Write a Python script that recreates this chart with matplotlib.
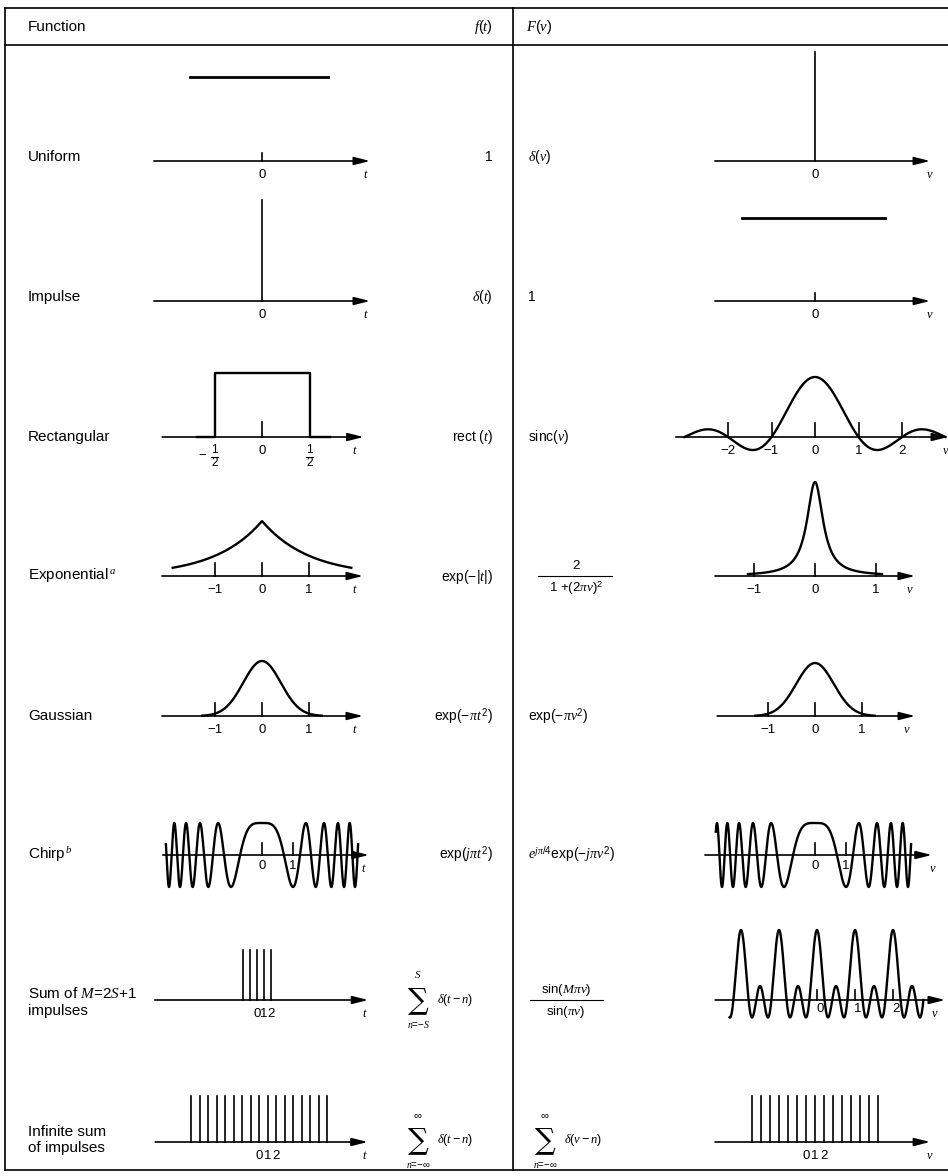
import matplotlib
matplotlib.use('Agg')
import matplotlib.pyplot as plt
import numpy as np

plt.rcParams['font.family'] = ['Liberation Sans', 'DejaVu Sans']
plt.rcParams['mathtext.fontset'] = 'custom'
plt.rcParams['mathtext.rm'] = 'Liberation Sans'
plt.rcParams['mathtext.it'] = 'Liberation Serif:italic'
plt.rcParams['mathtext.bf'] = 'Liberation Sans:bold'

# ---- table content
row_labels = ['Uniform', 'Impulse', 'Rectangular', r'Exponential$^{\,a}$', 'Gaussian',
              r'Chirp$^{\,b}$', 'Sum of $M$=2$S$+1\nimpulses', 'Infinite sum\nof impulses']
f_labels = ['1', r'$\delta(t)$', r'rect $(t)$', r'exp$(-|t|)$', r'exp$(-\pi t^{\,2})$',
            r'exp$(j\pi t^{2})$', None, None]
F_labels = [r'$\delta(\nu)$', '1', r'sinc$(\nu)$', None, r'exp$(-\pi\nu^{2})$',
            r'$e^{j\pi/4}$exp$(-j\pi\nu^{2})$', None, None]

# ---- curve data
uniform_span = [-1.53, 1.4]
impulse_span = [-1.55, 1.49]
rect_edges = [-0.5, 0.5]
exp_ticks = [-1, 0, 1]
sinc_ticks = [-2, -1, 0, 1, 2]
chirp_ticks = [0, 1]
sum_n = np.arange(-2, 3)          # M = 5, S = 2
sum_ticks = [0, 1, 2]
inf_n_left = np.arange(-8, 9)
inf_n_right = np.arange(-6, 9)

W, H = 948, 1176
fig = plt.figure(figsize=(W / 100, H / 100), dpi=100)
ax0 = fig.add_axes([0, 0, 1, 1])
ax0.set_xlim(0, W)
ax0.set_ylim(H, 0)
ax0.axis('off')

LW = 1.2
# frame of the table
ax0.plot([5, W], [8, 8], color='k', lw=LW)
ax0.plot([5, W], [45, 45], color='k', lw=LW)
ax0.plot([5, W], [1170, 1170], color='k', lw=LW)
ax0.plot([5, 5], [8, 1170], color='k', lw=LW)
ax0.plot([513, 513], [8, 1170], color='k', lw=LW)

ax0.text(28, 27, 'Function', fontsize=11, va='center')
ax0.text(493, 27, r'$f(t)$', fontsize=10.5, va='center', ha='right')
ax0.text(526, 27, r'$F(\nu)$', fontsize=10.5, va='center')

label_y = [157, 297, 437, 575, 716, 855, 1002, 1140]
formula_y = [157, 297, 437, 577, 717, 855]
for lab, y in zip(row_labels, label_y):
    ax0.text(28, y, lab, fontsize=11, va='center', linespacing=1.2)
for lab, y in zip(f_labels, formula_y):
    if lab:
        ax0.text(493, y, lab, fontsize=10, va='center', ha='right')
for lab, y in zip(F_labels, formula_y):
    if lab:
        ax0.text(528, y, lab, fontsize=10, va='center')

# fraction labels on the right
ax0.text(576, 566, '2', fontsize=9.5, ha='center', va='center')
ax0.plot([538, 612], [576, 576], color='k', lw=0.8)
ax0.text(576, 588, r'1 +$(2\pi\nu)^2$', fontsize=9.5, ha='center', va='center')
ax0.text(566, 990, r'sin$(M\pi\nu)$', fontsize=9.5, ha='center', va='center')
ax0.plot([530, 603], [1000, 1000], color='k', lw=0.8)
ax0.text(566, 1012, r'sin$(\pi\nu)$', fontsize=9.5, ha='center', va='center')


# summation signs
def sigma(x, y, top, bottom, body):
    ax0.text(x, y, '\u2211', fontsize=21, ha='center', va='center', family='DejaVu Serif')
    ax0.text(x, y - 25, top, fontsize=8, ha='center', va='center')
    ax0.text(x, y + 25, bottom, fontsize=7, ha='center', va='center')
    ax0.text(x + 19, y, body, fontsize=9, ha='left', va='center')

sigma(418, 1000, r'$S$', r'$n$=$-S$', r'$\delta(t-n)$')
sigma(418, 1140, r'$\infty$', r'$n$=$-\infty$', r'$\delta(t-n)$')
sigma(545, 1140, r'$\infty$', r'$n$=$-\infty$', r'$\delta(\nu-n)$')


def panel(x0, y0, sx, sy):
    l, r, t, b = x0 - 165, x0 + 165, y0 - 125, y0 + 45
    ax = fig.add_axes([l / W, 1 - b / H, (r - l) / W, (b - t) / H])
    ax.set_xlim(-165 / sx, 165 / sx)
    ax.set_ylim(-45 / sy, 125 / sy)
    ax.axis('off')
    ax.sx, ax.sy = sx, sy
    return ax


def axis_arrow(ax, xa, xb, var, var_x, dy=-14):
    ax.annotate('', xy=(xb, 0), xytext=(xa, 0), annotation_clip=False,
                arrowprops=dict(arrowstyle='-|>,head_length=0.8,head_width=0.2',
                                color='k', lw=LW, mutation_scale=12,
                                shrinkA=0, shrinkB=0))
    ax.annotate(var, xy=(var_x, 0), xytext=(0, dy), textcoords='offset pixels',
                ha='center', va='center', fontsize=9)


def ticks(ax, xs, h_px, labels=None, dy=-14, dx=0):
    for i, x in enumerate(xs):
        ax.plot([x, x], [0, h_px / ax.sy], color='k', lw=LW)
        if labels is not None:
            ax.annotate(labels[i], xy=(x, 0), xytext=(dx, dy), textcoords='offset pixels',
                        ha='center', va='center', fontsize=9.5)


def curve(ax, x, y):
    ax.plot(x, y, color='k', lw=1.7, clip_on=False)


def spikes(ax, xs, h=1.0):
    for x in xs:
        ax.plot([x, x], [0, h], color='k', lw=LW, clip_on=False)


XL, XR = 262, 815
axis_y = [161, 301, 437, 576, 716, 855, 1000, 1142]

# ---- row 1: uniform
ax = panel(XL, axis_y[0], 47, 84)
ax.plot(uniform_span, [1, 1], color='k', lw=2)
axis_arrow(ax, -2.3, 2.3, r'$t$', 2.2)
ticks(ax, [0], 8, ['0'])
ax = panel(XR, axis_y[0], 47, 109)
spikes(ax, [0])
axis_arrow(ax, -2.13, 2.45, r'$\nu$', 2.45)
ticks(ax, [0], 0, ['0'])

# ---- row 2: impulse
ax = panel(XL, axis_y[1], 47, 101)
spikes(ax, [0])
axis_arrow(ax, -2.3, 2.3, r'$t$', 2.2)
ticks(ax, [0], 0, ['0'])
ax = panel(XR, axis_y[1], 47, 83)
ax.plot(impulse_span, [1, 1], color='k', lw=2)
axis_arrow(ax, -2.13, 2.45, r'$\nu$', 2.45)
ticks(ax, [0], 8, ['0'])

# ---- row 3: rect / sinc
ax = panel(XL, axis_y[2], 95, 64)
t = np.array([-0.68, rect_edges[0], rect_edges[0], rect_edges[1], rect_edges[1], 0.72])
curve(ax, t, [0, 0, 1, 1, 0, 0])
axis_arrow(ax, -1.05, 1.07, r'$t$', 0.98)
ticks(ax, [0], 15, ['0'])
ax.annotate('\u2212', xy=(-0.5, 0), xytext=(-12, -19), textcoords='offset pixels',
            ha='center', va='center', fontsize=9.5)
for xe in rect_edges:
    ax.annotate('1', xy=(xe, 0), xytext=(0, -13), textcoords='offset pixels',
                ha='center', va='center', fontsize=8.5)
    ax.annotate('2', xy=(xe, 0), xytext=(0, -26), textcoords='offset pixels',
                ha='center', va='center', fontsize=8.5)
    ax.annotate('', xy=(xe + 0.04, 0), xytext=(xe - 0.04, 0),
                xycoords=ax.transData, textcoords=ax.transData)
    ax.plot([xe - 0.035, xe + 0.035], [-19.5 / ax.sy] * 2, color='k', lw=0.8, clip_on=False)
ax = panel(XR, axis_y[2], 43.5, 60)
nu = np.linspace(-3.0, 3.0, 600)
curve(ax, nu, np.sinc(nu))
axis_arrow(ax, -3.2, 3.06, r'$\nu$', 3.0)
ticks(ax, sinc_ticks, 14, ['\u22122', '\u22121', '0', '1', '2'])

# ---- row 4: exponential
ax = panel(XL, axis_y[3], 47, 55)
t = np.linspace(-1.9, 1.9, 400)
curve(ax, t, np.exp(-np.abs(t)))
axis_arrow(ax, -2.13, 2.15, r'$t$', 1.98)
ticks(ax, exp_ticks, 13, ['\u22121', '0', '1'])
ax = panel(XR, axis_y[3], 61, 47)
nu = np.linspace(-1.1, 1.1, 400)
curve(ax, nu, 2 / (1 + (2 * np.pi * nu) ** 2))
axis_arrow(ax, -1.64, 1.64, r'$\nu$', 1.56)
ticks(ax, exp_ticks, 12, ['\u22121', '0', '1'])

# ---- row 5: gaussian
ax = panel(XL, axis_y[4], 47, 55)
t = np.linspace(-1.27, 1.27, 400)
curve(ax, t, np.exp(-np.pi * t ** 2))
axis_arrow(ax, -2.13, 2.15, r'$t$', 1.98)
ticks(ax, exp_ticks, 13, ['\u22121', '0', '1'])
ax = panel(XR, axis_y[4], 47, 53)
curve(ax, t, np.exp(-np.pi * t ** 2))
axis_arrow(ax, -2.08, 2.13, r'$\nu$', 1.96)
ticks(ax, exp_ticks, 13, ['\u22121', '0', '1'])

# ---- row 6: chirp
ax = panel(XL, axis_y[5], 31, 32)
t = np.linspace(-3.1, 3.1, 1500)
curve(ax, t, np.cos(np.pi * t ** 2))
axis_arrow(ax, -3.2, 3.45, r'$t$', 3.3)
ticks(ax, chirp_ticks, 12, ['0', '1'], dy=-11)
ax = panel(XR, axis_y[5], 31, 32)
nu = np.linspace(-3.2, 3.1, 1500)
curve(ax, nu, np.cos(np.pi * nu ** 2))
axis_arrow(ax, -3.55, 3.77, r'$\nu$', 3.8)
ticks(ax, chirp_ticks, 12, ['0', '1'], dy=-11)

# ---- row 7: finite sum of impulses
ax = panel(257, axis_y[6], 7, 50)
spikes(ax, sum_n)
axis_arrow(ax, -14.6, 15.9, r'$t$', 15.4)
for k in sum_ticks:
    ax.annotate(str(k), xy=(k, 0), xytext=(0, -14), textcoords='offset pixels',
                ha='center', va='center', fontsize=9.5)
ax = panel(817, axis_y[6], 38, 14)
nu = np.linspace(-2.3, 2.8, 2000)
M = len(sum_n)
with np.errstate(divide='ignore', invalid='ignore'):
    d = np.sin(M * np.pi * nu) / np.sin(np.pi * nu)
d[~np.isfinite(d)] = M
curve(ax, nu, d)
axis_arrow(ax, -2.68, 3.37, r'$\nu$', 3.1)
ticks(ax, sum_ticks, 10, ['0', '1', '2'], dy=-9, dx=3)

# ---- row 8: infinite sum of impulses
ax = panel(259, axis_y[7], 8.5, 46)
spikes(ax, inf_n_left)
axis_arrow(ax, -12.2, 12.8, r'$t$', 12.5)
for k in sum_ticks:
    ax.annotate(str(k), xy=(k, 0), xytext=(0, -14), textcoords='offset pixels',
                ha='center', va='center', fontsize=9.5)
ax = panel(806, axis_y[7], 9, 46)
spikes(ax, inf_n_right)
axis_arrow(ax, -10.1, 13.8, r'$\nu$', 13.8)
for k in sum_ticks:
    ax.annotate(str(k), xy=(k, 0), xytext=(0, -14), textcoords='offset pixels',
                ha='center', va='center', fontsize=9.5)

fig.savefig('out.png', dpi=100)
